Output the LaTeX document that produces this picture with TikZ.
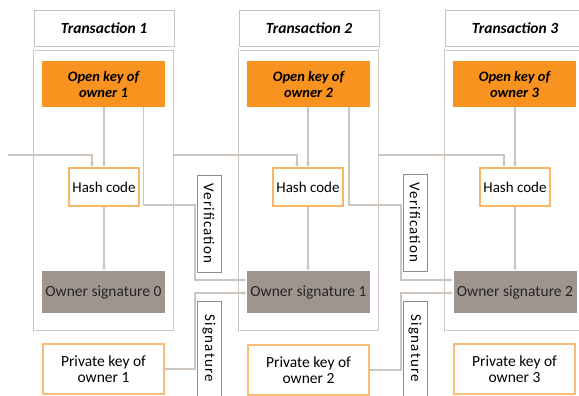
\documentclass[tikz,border=0pt]{standalone}
\usepackage{fontspec}
\setmainfont{Carlito}
\usetikzlibrary{arrows.meta,calc}
\definecolor{keyorange}{HTML}{F7931E}
\definecolor{signgray}{HTML}{A0958E}
\definecolor{linkgray}{HTML}{CEC5BF}
\definecolor{hashedge}{HTML}{F8B763}
\definecolor{privedge}{HTML}{F9BD78}
\definecolor{titleedge}{HTML}{C4C4C4}
\tikzset{
  link/.style={draw=linkgray, line width=1.7pt, >={Latex[length=4pt,width=4pt]}},
  titlebox/.style={draw=titleedge, line width=0.8pt, minimum width=140, minimum height=36, font=\fontsize{15.5}{17}\selectfont\bfseries\itshape},
  txbox/.style={draw=linkgray, line width=0.9pt, double=white, double distance=1pt, minimum width=140, minimum height=281},
  openkey/.style={fill=keyorange, minimum width=123, minimum height=46, align=center, font=\fontsize{14.5}{16}\selectfont\bfseries\itshape},
  hashbox/.style={draw=hashedge, line width=1.2pt, fill=white, minimum width=70, minimum height=38, font=\fontsize{15}{17}\selectfont},
  signbox/.style={fill=signgray, minimum width=123, minimum height=42, font=\fontsize{15.5}{17}\selectfont, text=black!85},
  privkey/.style={draw=privedge, line width=1.8pt, fill=white, minimum width=121, minimum height=50, align=center, font=\fontsize{15.5}{16.5}\selectfont},
  sidelabel/.style={draw=black!45, line width=0.6pt, fill=white, rotate=-90, minimum height=24, font=\fontsize{15}{17}\selectfont\addfontfeature{LetterSpace=8}}
}
\begin{document}
\begin{tikzpicture}[x=1pt, y=-1pt]
  \useasboundingbox (0,0) rectangle (579,396);
  % transactions
  \node[titlebox] (title1) at (104,28) {Transaction 1};
  \node[titlebox] (title2) at (309,28) {Transaction 2};
  \node[titlebox] (title3) at (515,28) {Transaction 3};
  \node[txbox] (box1) at (104,190.5) {};
  \node[txbox] (box2) at (309,190.5) {};
  \node[txbox] (box3) at (515,190.5) {};
  \node[openkey] (key1) at (103.5,84) {Open key of\\owner 1};
  \node[openkey] (key2) at (308.5,84) {Open key of\\owner 2};
  \node[openkey] (key3) at (514.5,84) {Open key of\\owner 3};
  \node[hashbox] (hash1) at (104,187) {Hash code};
  \node[hashbox] (hash2) at (308,187) {Hash code};
  \node[hashbox] (hash3) at (515,187) {Hash code};
  \node[signbox] (sig1) at (103.5,292) {Owner signature 0};
  \node[signbox] (sig2) at (308.5,292) {Owner signature 1};
  \node[signbox] (sig3) at (515,292) {Owner signature 2};
  \node[privkey] (priv1) at (103.5,369) {Private key of\\owner 1};
  \node[privkey] (priv2) at (308.5,370) {Private key of\\owner 2};
  \node[privkey] (priv3) at (514.5,369) {Private key of\\owner 3};
  \node[sidelabel, minimum width=97] (ver1) at (209,223.5) {Verification};
  \node[sidelabel, minimum width=97] (ver2) at (415,222.5) {Verification};
  \node[sidelabel, minimum width=95] (sgn1) at (209,348.5) {Signature};
  \node[sidelabel, minimum width=95] (sgn2) at (415,348.5) {Signature};
  % chain between transactions
  \coordinate (in) at (8,155);
  \draw[link,->] (in) -| ([xshift=-12]hash1.north);
  \draw[link,->] (box1.east |- in) -| ([xshift=-11]hash2.north);
  \draw[link,->] (box2.east |- in) -| ([xshift=-11]hash3.north);
  % open key -> hash -> signature
  \foreach \i in {1,2,3} {
    \draw[link,->] (hash\i.north |- key\i.south) -- (hash\i.north);
    \draw[link,->] (hash\i.south) -- (hash\i.south |- sig\i.north);
  }
  % verification and signature paths
  \coordinate (v1a) at (195,205);
  \coordinate (v1b) at (195,280);
  \coordinate (s1a) at (195,293);
  \coordinate (v2a) at (401,205);
  \coordinate (v2b) at (401,280);
  \coordinate (s2a) at (401,293);
  \draw[link,->] ([xshift=40]key1.south) |- (v1a) -- (v1b) -- (v1b -| sig2.west);
  \draw[link,->] (priv1.east) -| (s1a) -- (s1a -| sig2.west);
  \draw[link,->] ([xshift=40.5]key2.south) |- (v2a) -- (v2b) -- (v2b -| sig3.west);
  \draw[link,->] (priv2.east) -| (s2a) -- (s2a -| sig3.west);
\end{tikzpicture}
\end{document}
